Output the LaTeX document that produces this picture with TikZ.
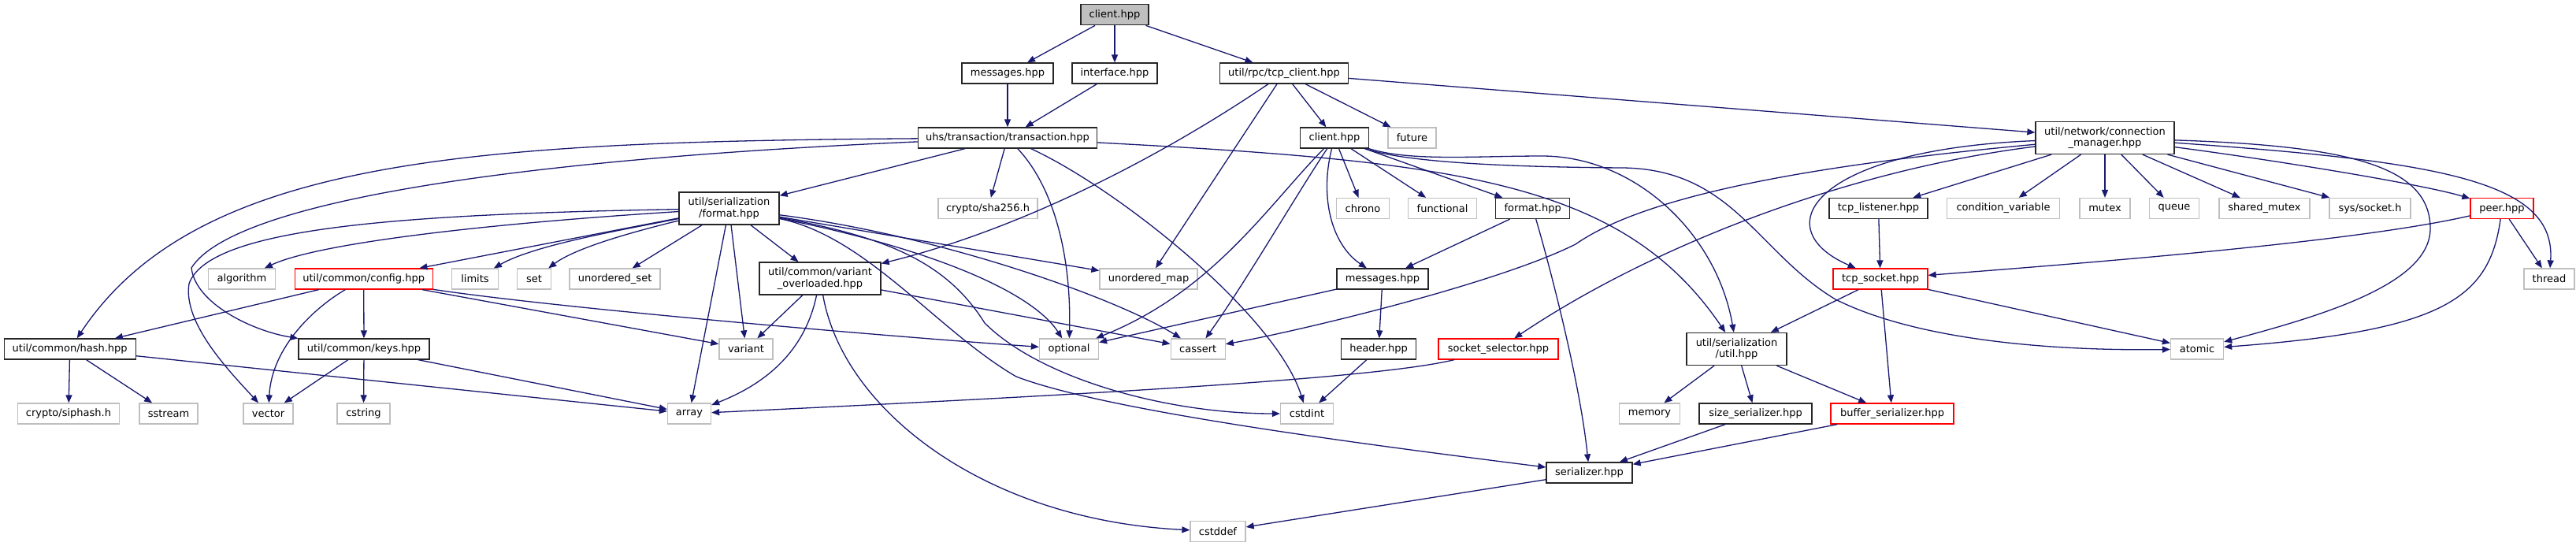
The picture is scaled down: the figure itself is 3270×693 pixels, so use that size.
\documentclass[tikz,border=0pt]{standalone}
\usepackage{fontspec}
\setmainfont{DejaVu Sans}
\usetikzlibrary{arrows.meta}
\definecolor{edgec}{HTML}{191970}
\definecolor{sysc}{HTML}{BFBFBF}
\begin{document}
\begin{tikzpicture}[x=1pt,y=-1pt,
  nd/.style={draw, line width=1.3pt, inner sep=0pt, minimum height=26pt, align=center,
     font=\fontsize{13}{14.5}\selectfont, fill=white},
  doc/.style={nd, draw=black!85},
  sys/.style={nd, draw=sysc},
  redbox/.style={nd, draw=red},
  rootbox/.style={nd, draw=black!85, fill=sysc},
  two/.style={minimum height=41pt},
  edge/.style={draw=edgec, line width=1.3pt, -{Triangle[length=10pt,width=8pt]}}]
\useasboundingbox (0,0) rectangle (3270,693);
% row 0
\node[rootbox, minimum width=86pt] (root) at (1415,18.7) {client.hpp};
% row 1
\node[doc, minimum width=116pt] (msgA) at (1279,93) {messages.hpp};
\node[doc, minimum width=108pt] (iface) at (1415,93) {interface.hpp};
\node[doc, minimum width=163pt] (tcpc) at (1630,93) {util/rpc/tcp\_client.hpp};
% row 2
\node[doc, minimum width=227pt] (trans) at (1279,175) {uhs/transaction/transaction.hpp};
\node[doc, minimum width=87pt] (client2) at (1694,175) {client.hpp};
\node[sys, minimum width=61pt] (future) at (1792.5,175) {future};
\node[doc, two, minimum width=176pt] (connmgr) at (2672,175) {util/network/connection\\\_manager.hpp};
% row 3
\node[doc, two, minimum width=127pt] (format) at (925.5,264.5) {util/serialization\\/format.hpp};
\node[sys, minimum width=126pt] (sha) at (1254,264.5) {crypto/sha256.h};
\node[sys, minimum width=67pt] (chrono) at (1730,264.5) {chrono};
\node[sys, minimum width=87pt] (functional) at (1831,264.5) {functional};
\node[doc, minimum width=94pt] (rformat) at (1945.7,264.5) {format.hpp};
\node[doc, minimum width=125pt] (listener) at (2384.5,264.5) {tcp\_listener.hpp};
\node[sys, minimum width=143pt] (condvar) at (2543,264.5) {condition\_variable};
\node[sys, minimum width=64pt] (mutex) at (2672,264.5) {mutex};
\node[sys, minimum width=63pt] (queue) at (2760,264.5) {queue};
\node[sys, minimum width=115pt] (sharedmutex) at (2874.5,264.5) {shared\_mutex};
\node[sys, minimum width=103pt] (syssocket) at (3008.5,264.5) {sys/socket.h};
\node[redbox, minimum width=80pt] (peer) at (3176,264.5) {peer.hpp};
% row 4
\node[sys, minimum width=85pt] (algorithm) at (307,354) {algorithm};
\node[redbox, minimum width=175pt] (config) at (461.7,354) {util/common/config.hpp};
\node[sys, minimum width=59pt] (limits) at (603,354) {limits};
\node[sys, minimum width=43pt] (set) at (678,354) {set};
\node[sys, minimum width=115pt] (uset) at (780.6,354) {unordered\_set};
\node[doc, two, minimum width=154pt] (varov) at (1041,353.5) {util/common/variant\\\_overloaded.hpp};
\node[sys, minimum width=124pt] (umap) at (1458,354) {unordered\_map};
\node[doc, minimum width=116pt] (msgB) at (1755,354) {messages.hpp};
\node[redbox, minimum width=120pt] (tcpsock) at (2387,354) {tcp\_socket.hpp};
\node[sys, minimum width=64pt] (thread) at (3236,354) {thread};
% row 5
\node[doc, minimum width=167pt] (hash) at (88.7,443) {util/common/hash.hpp};
\node[doc, minimum width=166pt] (keys) at (462,443) {util/common/keys.hpp};
\node[sys, minimum width=68pt] (variant) at (947,443) {variant};
\node[sys, minimum width=75pt] (optional) at (1357,443) {optional};
\node[sys, minimum width=69pt] (cassert) at (1520.7,443) {cassert};
\node[doc, minimum width=95pt] (header) at (1750,443) {header.hpp};
\node[redbox, minimum width=152pt] (sockselect) at (1902,443) {socket\_selector.hpp};
\node[doc, two, minimum width=127pt] (sutil) at (2204.5,443) {util/serialization\\/util.hpp};
\node[sys, minimum width=67pt] (atomic) at (2789,443) {atomic};
% row 6
\node[sys, minimum width=129pt] (siphash) at (87,525) {crypto/siphash.h};
\node[sys, minimum width=74pt] (sstream) at (214,525) {sstream};
\node[sys, minimum width=63pt] (vector) at (340.6,525) {vector};
\node[sys, minimum width=67pt] (cstring) at (461.5,525) {cstring};
\node[sys, minimum width=55pt] (array) at (875,525) {array};
\node[sys, minimum width=67pt] (cstdint) at (1659,525) {cstdint};
\node[sys, minimum width=77pt] (memory) at (2094,525) {memory};
\node[doc, minimum width=143pt] (sizeser) at (2228.5,525) {size\_serializer.hpp};
\node[redbox, minimum width=156pt] (bufser) at (2402,525) {buffer\_serializer.hpp};
% row 7,8
\node[doc, minimum width=109pt] (serializer) at (2017.5,600) {serializer.hpp};
\node[sys, minimum width=70pt] (cstddef) at (1546,674.5) {cstddef};

% edges
\draw[edge] (root) -- (msgA);
\draw[edge] (root) -- (iface);
\draw[edge] (root) -- (tcpc);
\draw[edge] (msgA) -- (trans);
\draw[edge] (iface) -- (trans);
\draw[edge] (tcpc) -- (client2);
\draw[edge] (tcpc) -- (future);
\draw[edge] (tcpc) -- (connmgr);
\draw[edge] (tcpc) .. controls (1480,195) and (1300,290) .. (varov);
\draw[edge] (tcpc) -- (umap);

\draw[edge] (trans) -- (format);
\draw[edge] (trans) -- (sha);
\draw[edge] (trans) .. controls (1340,240) and (1360,330) .. (optional);
\draw[edge] (trans) .. controls (1420,240) and (1620,400) .. (cstdint);
\draw[edge] (trans) .. controls (600,180) and (250,200) .. (hash);
\draw[edge] (trans) .. controls (700,200) and (300,250) .. (243,340) .. controls (248,385) and (320,420) .. (keys);
\draw[edge] (trans) .. controls (1850,205) and (2060,230) .. (sutil);

\draw[edge] (client2) -- (chrono);
\draw[edge] (client2) -- (functional);
\draw[edge] (client2) -- (rformat);
\draw[edge] (client2) .. controls (1675,250) and (1690,310) .. (msgB);
\draw[edge] (client2) .. controls (1610,260) and (1540,370) .. (optional);
\draw[edge] (client2) .. controls (1650,240) and (1580,360) .. (cassert);
\draw[edge] (client2) .. controls (1790,205) and (1870,198) .. (1960,198) .. controls (2080,200) and (2180,300) .. (sutil);
\draw[edge] (client2) .. controls (1780,205) and (1900,212) .. (2060,213) .. controls (2200,215) and (2230,320) .. (2330,380) .. controls (2450,440) and (2650,445) .. (atomic);

\draw[edge] (rformat) -- (msgB);
\draw[edge] (rformat) .. controls (1965,330) and (2005,480) .. (serializer);
\draw[edge] (msgB) -- (header);
\draw[edge] (msgB) -- (optional);
\draw[edge] (header) -- (cstdint);

\draw[edge] (format) .. controls (600,285) and (400,310) .. (algorithm);
\draw[edge] (format) -- (config);
\draw[edge] (format) .. controls (800,290) and (680,310) .. (limits);
\draw[edge] (format) .. controls (800,295) and (730,315) .. (set);
\draw[edge] (format) -- (uset);
\draw[edge] (format) .. controls (500,272) and (265,290) .. (240,360) .. controls (232,410) and (290,470) .. (vector);
\draw[edge] (format) -- (varov);
\draw[edge] (format) -- (variant);
\draw[edge] (format) -- (array);
\draw[edge] (format) -- (umap);
\draw[edge] (format) .. controls (1180,315) and (1310,370) .. (optional);
\draw[edge] (format) .. controls (1200,300) and (1420,380) .. (cassert);
\draw[edge] (format) .. controls (1120,300) and (1200,330) .. (1250,410) .. controls (1320,480) and (1480,525) .. (cstdint);
\draw[edge] (format) .. controls (1100,300) and (1190,420) .. (1290,478) .. controls (1400,520) and (1700,560) .. (serializer);

\draw[edge] (config) -- (hash);
\draw[edge] (config) -- (keys);
\draw[edge] (config) .. controls (400,390) and (345,440) .. (vector);
\draw[edge] (config) -- (variant);
\draw[edge] (config) .. controls (700,390) and (1100,425) .. (optional);

\draw[edge] (hash) -- (siphash);
\draw[edge] (hash) -- (sstream);
\draw[edge] (hash) -- (array);
\draw[edge] (keys) -- (vector);
\draw[edge] (keys) -- (cstring);
\draw[edge] (keys) -- (array);

\draw[edge] (varov) -- (variant);
\draw[edge] (varov) .. controls (1025,430) and (990,480) .. (array);
\draw[edge] (varov) .. controls (1070,520) and (1250,660) .. (cstddef);
\draw[edge] (varov) -- (cassert);

\draw[edge] (sutil) -- (memory);
\draw[edge] (sutil) -- (sizeser);
\draw[edge] (sutil) -- (bufser);
\draw[edge] (tcpsock) -- (sutil);
\draw[edge] (tcpsock) -- (bufser);
\draw[edge] (tcpsock) -- (atomic);
\draw[edge] (listener) -- (tcpsock);
\draw[edge] (sizeser) -- (serializer);
\draw[edge] (bufser) -- (serializer);
\draw[edge] (serializer) -- (cstddef);
\draw[edge] (sockselect) .. controls (1750,480) and (1400,500) .. (array);

\draw[edge] (connmgr) .. controls (2300,190) and (2240,290) .. (tcpsock);
\draw[edge] (connmgr) -- (listener);
\draw[edge] (connmgr) -- (condvar);
\draw[edge] (connmgr) -- (mutex);
\draw[edge] (connmgr) -- (queue);
\draw[edge] (connmgr) -- (sharedmutex);
\draw[edge] (connmgr) -- (syssocket);
\draw[edge] (connmgr) .. controls (2900,205) and (3080,235) .. (peer);
\draw[edge] (connmgr) .. controls (3100,205) and (3245,230) .. (thread);
\draw[edge] (connmgr) .. controls (2980,185) and (3085,210) .. (3085,290) .. controls (3085,360) and (2950,400) .. (atomic);
\draw[edge] (connmgr) .. controls (2350,205) and (2100,240) .. (2000,310) .. controls (1900,360) and (1650,420) .. (cassert);
\draw[edge] (connmgr) .. controls (2350,215) and (2100,310) .. (sockselect);

\draw[edge] (peer) .. controls (3000,305) and (2700,330) .. (tcpsock);
\draw[edge] (peer) -- (thread);
\draw[edge] (peer) .. controls (3160,380) and (3100,420) .. (atomic);
\end{tikzpicture}
\end{document}
